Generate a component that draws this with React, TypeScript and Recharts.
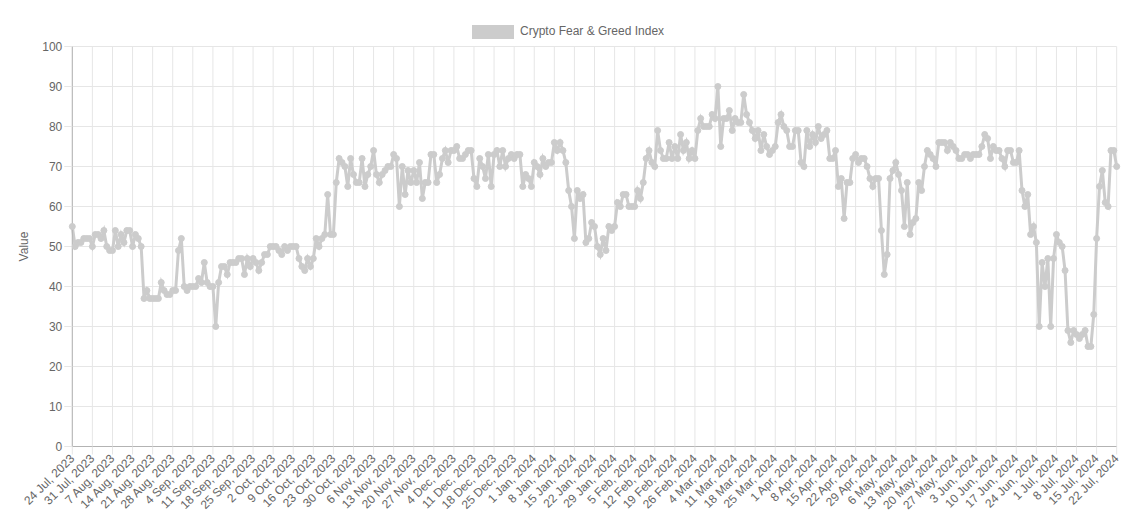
import React from 'react';
import { LineChart, Line, XAxis, YAxis, CartesianGrid, Label } from 'recharts';

// Crypto Fear & Greed Index, daily values from 24 Jul 2023 to 22 Jul 2024
const FG_PART1 = [
  55, 50, 51, 51, 52, 52, 52,
  50, 53, 53, 52, 54, 50, 49,
  49, 54, 50, 53, 51, 54, 54,
  50, 53, 52, 50, 37, 39, 37,
  37, 37, 37, 41, 39, 38, 38,
  39, 39, 49, 52, 40, 39, 40,
  40, 40, 42, 41, 46, 41, 40,
  40, 30, 41, 45, 45, 43, 46,
  46, 46, 47, 47, 43, 47, 45,
  47, 46, 44, 46, 48, 48, 50,
];
const FG_PART2 = [
  50, 50, 49, 48, 50, 49, 50,
  50, 50, 47, 45, 44, 47, 45,
  47, 52, 50, 52, 53, 63, 53,
  53, 66, 72, 71, 70, 65, 72,
  68, 66, 66, 72, 65, 68, 70,
  74, 68, 66, 68, 69, 70, 70,
  73, 72, 60, 70, 63, 69, 66,
  69, 66, 71, 62, 66, 66, 73,
  73, 66, 68, 72, 74, 71, 74,
  74, 75, 72, 72, 73, 74,
];
const FG_PART3 = [
  74, 67, 65, 72, 70, 67, 73,
  65, 73, 74, 70, 74, 70, 72,
  73, 72, 73, 73, 65, 68, 67,
  65, 71, 70, 68, 72, 70, 71,
  71, 76, 74, 76, 74, 71, 64,
  60, 52, 64, 62, 63, 51, 52,
  56, 55, 50, 48, 52, 49, 55,
  54, 55, 61, 60, 63, 63, 60,
  60, 60, 64, 62, 66, 72, 74,
  71, 70, 79, 74, 72, 72, 76,
];
const FG_PART4 = [
  72, 75, 72, 78, 74, 76, 72,
  74, 72, 79, 82, 80, 80, 80,
  83, 82, 90, 75, 82, 82, 84,
  79, 82, 81, 81, 88, 83, 81,
  79, 77, 79, 74, 78, 75, 73,
  74, 75, 81, 83, 80, 79, 75,
  75, 79, 79, 71, 70, 79, 75,
  78, 76, 80, 77, 78, 79, 72,
  72, 74, 65, 67, 57, 66, 66,
  72, 73, 71, 72, 72, 70, 67,
];
const FG_PART5 = [
  65, 67, 67, 54, 43, 48, 67,
  69, 71, 68, 64, 55, 66, 53,
  56, 57, 66, 64, 70, 74, 73,
  72, 70, 76, 76, 76, 74, 76,
  75, 74, 72, 72, 73, 73, 72,
  73, 73, 73, 75, 78, 77, 72,
  75, 74, 74, 72, 70, 74, 74,
  71, 71, 74, 64, 60, 63, 53,
  55, 51, 30, 46, 40, 47, 30,
  47, 53, 51, 50, 44, 29, 26,
  29, 28, 27, 28, 29, 25, 25,
  33, 52, 65, 69, 61, 60, 74,
  74, 70,
];

const VALUES = [...FG_PART1, ...FG_PART2, ...FG_PART3, ...FG_PART4, ...FG_PART5];

const MONTHS = ['Jan', 'Feb', 'Mar', 'Apr', 'May', 'Jun', 'Jul', 'Aug', 'Sep', 'Oct', 'Nov', 'Dec'];
const START_UTC = Date.UTC(2023, 6, 24);
const DATES = VALUES.map((_, i) => {
  const d = new Date(START_UTC + i * 86400000);
  return `${d.getUTCDate()} ${MONTHS[d.getUTCMonth()]}, ${d.getUTCFullYear()}`;
});

const Y_TICKS = [0, 10, 20, 30, 40, 50, 60, 70, 80, 90, 100];
const SERIES_NAME = 'Crypto Fear & Greed Index';

const data = DATES.map((date, i) => ({ date, value: VALUES[i] }));

const LINE_COLOR = 'rgb(204,204,204)';
const GRID_COLOR = '#e6e6e6';
const AXIS_COLOR = '#b3b3b3';
const TEXT_COLOR = '#666666';
const FONT = "'Liberation Sans', Arial, Helvetica, sans-serif";

const XTick = (props: any) => {
  const { x, y, payload } = props;
  return (
    <g transform={`translate(${x},${y})`}>
      <text
        x={0}
        y={0}
        textAnchor="end"
        dominantBaseline="central"
        transform="rotate(-45)"
        fill={TEXT_COLOR}
        fontSize={12}
        fontFamily={FONT}
      >
        {payload.value}
      </text>
    </g>
  );
};

const YLabel = (props: any) => {
  const vb = props.viewBox || { x: 0, y: 0, height: 0 };
  const cx = vb.x + 16;
  const cy = vb.y + vb.height / 2;
  return (
    <text
      x={cx}
      y={cy}
      transform={`rotate(-90 ${cx} ${cy})`}
      textAnchor="middle"
      dominantBaseline="central"
      fill={TEXT_COLOR}
      fontSize={12}
      fontFamily={FONT}
    >
      Value
    </text>
  );
};

export default function App() {
  return (
    <div style={{ position: 'relative', width: 1128, height: 516, fontFamily: FONT }}>
      <div
        style={{
          position: 'absolute',
          left: 464.3,
          top: 17,
          width: 40,
          height: 12,
          background: LINE_COLOR,
          border: `1.5px solid ${LINE_COLOR}`,
        }}
      />
      <div
        style={{
          position: 'absolute',
          left: 512,
          top: 16,
          fontSize: 12,
          lineHeight: '15px',
          color: TEXT_COLOR,
          whiteSpace: 'nowrap',
        }}
      >
        {SERIES_NAME}
      </div>
      <LineChart
        width={1128}
        height={516}
        data={data}
        margin={{ top: 38.5, right: 19.3, bottom: 7.5, left: 0 }}
      >
        <CartesianGrid stroke={GRID_COLOR} strokeWidth={1} />
        <XAxis
          dataKey="date"
          interval={6}
          tickSize={8}
          tickMargin={2}
          height={70}
          axisLine={{ stroke: AXIS_COLOR }}
          tickLine={{ stroke: GRID_COLOR }}
          tick={<XTick />}
        />
        <YAxis
          type="number"
          domain={[0, 100]}
          ticks={Y_TICKS}
          width={64.3}
          tickSize={8}
          tickMargin={2}
          axisLine={{ stroke: AXIS_COLOR }}
          tickLine={{ stroke: GRID_COLOR }}
          tick={{ fill: TEXT_COLOR, fontSize: 12, fontFamily: FONT }}
          label={<Label content={<YLabel />} />}
        />
        <Line
          type="linear"
          dataKey="value"
          name={SERIES_NAME}
          stroke={LINE_COLOR}
          strokeWidth={3}
          dot={{ r: 3, fill: LINE_COLOR, stroke: LINE_COLOR, strokeWidth: 1 }}
          isAnimationActive={false}
        />
      </LineChart>
    </div>
  );
}
